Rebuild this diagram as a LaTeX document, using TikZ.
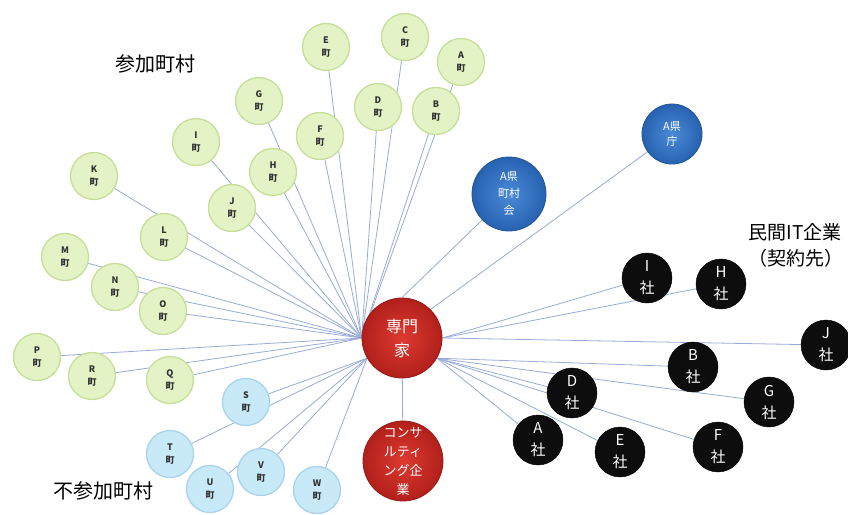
\documentclass[tikz,border=0pt]{standalone}
\usepackage{fontspec}
\setmainfont{Noto Sans CJK JP}
\usetikzlibrary{backgrounds}
\definecolor{townfill}{HTML}{E4F3C6}
\definecolor{towndraw}{HTML}{C6DE98}
\definecolor{outfill}{HTML}{C8E9F8}
\definecolor{outdraw}{HTML}{A9D3EA}
\definecolor{linkcol}{HTML}{98AAD6}
\definecolor{redin}{HTML}{DC3A30}
\definecolor{redout}{HTML}{B2201B}
\definecolor{bluein}{HTML}{4A8AD6}
\definecolor{blueout}{HTML}{2762B0}
\tikzset{
town/.style={circle,draw=towndraw,line width=1.3pt,fill=townfill,minimum size=47pt,inner sep=0pt,align=center,font=\fontsize{9}{13}\selectfont\bfseries,text=black!80},
outtown/.style={town,draw=outdraw,fill=outfill},
expert/.style={circle,draw=redout!85!black,thick,inner color=redin,outer color=redout,minimum size=80pt,inner sep=0pt,align=center,text=white},
office/.style={circle,draw=blueout!85!black,thick,inner color=bluein,outer color=blueout,inner sep=0pt,align=center,text=white,font=\fontsize{11}{16}\selectfont},
firm/.style={circle,draw=black,fill=black!95,minimum size=50pt,inner sep=0pt,align=center,text=white,font=\fontsize{15}{22}\selectfont},
link/.style={draw=linkcol,line width=0.8pt}
}
\begin{document}
\begin{tikzpicture}[x=1pt,y=-1pt]
\useasboundingbox (0,0) rectangle (848,514);
%titles
\node[font=\fontsize{20}{24}\selectfont] (joined) at (155,64) {参加町村};
\node[font=\fontsize{20}{24}\selectfont] (notjoined) at (103,491) {不参加町村};
\node[font=\fontsize{19}{26}\selectfont,anchor=west,align=left] (itlabel) at (745,245) {民間IT企業\\（契約先）};
% centre
\node[expert,font=\fontsize{16}{24}\selectfont] (expert) at (402,338) {専門\\家};
\node[expert,font=\fontsize{13}{19}\selectfont] (consult) at (403,461) {コンサ\\ルティ\\ング企\\業};
% prefecture
\node[office,minimum size=74pt,font=\fontsize{11}{17}\selectfont] (assoc) at (509,194) {A県\\町村\\会};
\node[office,minimum size=60pt,font=\fontsize{11}{15}\selectfont] (pref) at (672,134) {A県\\庁};
% joined towns
\foreach \n/\x/\y in {A/461/62,B/436/111,C/405/37,D/378/107,E/326/47,F/320/136,
G/259/101,H/273/172,I/196/142,J/232/208,K/94/176,L/164/237,M/65/257,N/115/287,
O/163/311,P/37/357,Q/170/380,R/92/376}{
\node[town] (t\n) at (\x,\y) {\n\\町};
}
% towns not joined
\foreach \n/\x/\y in {S/246/402,T/170/454,U/210/489,V/261/472,W/317/490}{
\node[outtown] (t\n) at (\x,\y) {\n\\町};
}
% IT firms
\foreach \n/\x/\y in {A/538/440,B/693/367,D/572/393,E/620/452,F/718/447,
G/769/402,H/721/284,I/647/278,J/826/345}{
\node[firm] (f\n) at (\x,\y) {\n\\社};
}
%links
\begin{pgfonlayer}{background}
\foreach \n in {A,B,C,D,E,F,G,H,I,J,K,L,M,N,O,P,Q,R}{
\draw[link] (expert.west) -- (t\n);
}
\foreach \n in {S,T,U,V,W}{
\draw[link] (expert.210) -- (t\n);
}
\foreach \n in {H,I,J}{
\draw[link] (expert.east) -- (f\n);
}
\foreach \n in {A,B,D,E,F,G}{
\draw[link] (expert.-30) -- (f\n);
}
\draw[link] (expert) -- (consult);
\draw[link] (expert.north) -- (assoc);
\draw[link] (expert.north east) -- (pref);
\end{pgfonlayer}
\end{tikzpicture}
\end{document}
